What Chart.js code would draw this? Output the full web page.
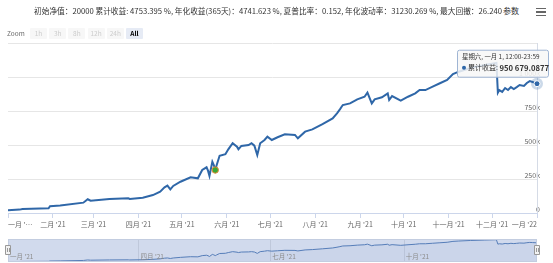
<!DOCTYPE html>
<html><head><meta charset="utf-8">
<script src="https://cdn.jsdelivr.net/npm/chart.js@4.4.1/dist/chart.umd.min.js"></script>
<style>
html,body{margin:0;padding:0;background:#fff;width:553px;height:263px;overflow:hidden;font-family:"Noto Sans CJK SC","Noto Sans",sans-serif;}
#main{position:absolute;left:0;top:0;}
#nav{position:absolute;left:0;top:238px;}
#title{position:absolute;left:34px;top:5px;font-size:7.7px;line-height:12px;color:#333;white-space:nowrap;}
#param{position:absolute;left:503px;top:5px;font-size:8px;line-height:12px;color:#333;background:#fff;padding-right:2px;}
#menu{position:absolute;left:536px;top:8px;width:10px;}
#menu div{height:1.3px;background:#666;margin-bottom:2px;}
#zoomrow{position:absolute;left:7px;top:28px;height:11px;font-size:6.5px;color:#666;}
#zoomrow span{position:absolute;top:0;height:11px;line-height:11px;text-align:center;}
.btn{background:#f7f7f7;color:#ccc;width:17px;border-radius:1px;}
.sel{background:#e6ebf5;color:#000;font-weight:bold;}
</style></head>
<body>
<canvas id="main" width="553" height="238"></canvas>
<canvas id="nav" width="553" height="25"></canvas>
<div id="title"></div>
<div id="param">参数</div>
<div id="menu"><div></div><div></div><div></div></div>
<div id="zoomrow"></div>
<script>
// ---- data ----
const statsText = "初始净值：20000 累计收益: 4753.395 %, 年化收益(365天)：4741.623 %, 夏普比率：0.152, 年化波动率：31230.269 %, 最大回撤：26.240 %";
const zoomButtons = ["1h","3h","8h","12h","24h","All"];
const seriesName = "累计收益";
const dates = ["2021-01-01","2021-01-09","2021-01-11","2021-01-29","2021-01-30","2021-02-06","2021-02-22","2021-02-25","2021-02-27",
"2021-03-12","2021-03-25","2021-03-26","2021-04-04","2021-04-11","2021-04-16","2021-04-19","2021-04-21","2021-04-23","2021-04-25",
"2021-04-30","2021-05-07","2021-05-12","2021-05-15","2021-05-18","2021-05-19","2021-05-20","2021-05-22","2021-05-23","2021-05-24",
"2021-05-25","2021-05-27","2021-05-31","2021-06-02","2021-06-05","2021-06-08","2021-06-09","2021-06-11","2021-06-16","2021-06-18",
"2021-06-20","2021-06-22","2021-06-24","2021-06-27","2021-06-29","2021-07-02","2021-07-06","2021-07-11","2021-07-18","2021-07-20",
"2021-07-25","2021-07-30","2021-08-06","2021-08-13","2021-08-16","2021-08-18","2021-08-20","2021-08-25","2021-08-30","2021-09-04",
"2021-09-06","2021-09-09","2021-09-11","2021-09-16","2021-09-20","2021-09-21","2021-09-23","2021-09-29","2021-10-04","2021-10-09",
"2021-10-12","2021-10-16","2021-10-21","2021-10-26","2021-10-31","2021-11-04","2021-11-08","2021-11-16","2021-11-26","2021-12-04",
"2021-12-05","2021-12-06","2021-12-08","2021-12-10","2021-12-12","2021-12-14","2021-12-16","2021-12-18","2021-12-20","2021-12-23",
"2021-12-25","2021-12-27","2021-12-29","2022-01-01"];
const values = [20000,25000,30000,35000,50000,55000,76000,101000,90000,
103000,108000,103000,112000,132000,157000,189000,201000,174000,199000,
230000,262000,255000,316000,336000,311000,272000,377000,353000,316000,
353000,421000,432000,468000,513000,487000,468000,493000,500000,513000,
495000,426000,513000,537000,561000,537000,557000,579000,574000,549000,
598000,615000,654000,696000,733000,762000,794000,806000,836000,855000,
885000,806000,836000,851000,880000,831000,860000,826000,855000,880000,
904000,904000,929000,954000,978000,1022000,1039000,1066000,1088000,1103000,
885000,904000,890000,919000,904000,926000,912000,926000,941000,934000,
956000,970000,963000,950679.0877];
const monthStarts = ["2021-01-01","2021-02-01","2021-03-01","2021-04-01","2021-05-01","2021-06-01","2021-07-01","2021-08-01","2021-09-01","2021-10-01","2021-11-01","2021-12-01","2022-01-01"];
const monthLabels = ["一月 '…","二月 '21","三月 '21","四月 '21","五月 '21","六月 '21","七月 '21","八月 '21","九月 '21","十月 '21","十一月 '21","十二月 '21","一月 '22"];
const navTickDates = ["2021-01-01","2021-04-01","2021-07-01","2021-10-01"];
const navTickLabels = ["一月 '21","四月 '21","七月 '21","十月 '21"];
const yTicks = [0,250000,500000,750000,1000000,1250000];
const markerDate = "2021-05-24", markerValue = 316000;
const hoverIndex = dates.length - 1;
const tooltipHeader = "星期六, 一月 1, 12:00-23:59";
const tooltipValue = "950 679.0877";

// ---- helpers ----
const base = Date.UTC(2021,0,1);
const dayOf = s => (Date.UTC(+s.slice(0,4), +s.slice(5,7)-1, +s.slice(8,10)) - base)/86400000;
const pts = dates.map((d,i)=>({x:dayOf(d), y:values[i]}));
const fmtK = v => { if(v===0) return '0'; const k=Math.round(v/1000); return String(k).replace(/\B(?=(\d{3})+(?!\d))/g,' ')+'k'; };
const FONT = '"Noto Sans CJK SC","Noto Sans",sans-serif';
const LINE = '#2f67a8';

document.getElementById('title').textContent = statsText;
const zr = document.getElementById('zoomrow');
const zl = document.createElement('span'); zl.textContent='Zoom'; zl.style.left='0px'; zr.appendChild(zl);
zoomButtons.forEach((b,i)=>{const s=document.createElement('span'); s.textContent=b; s.className='btn'+(b==='All'?' sel':''); s.style.left=(23+i*19.2)+'px'; zr.appendChild(s);});

const overlay = {
  id:'overlay',
  beforeDatasetsDraw(chart){
    const ctx=chart.ctx, a=chart.chartArea, xs=chart.scales.x;
    const px = xs.getPixelForValue(pts[hoverIndex].x);
    ctx.save(); ctx.strokeStyle='#d5dbe6'; ctx.lineWidth=1;
    ctx.beginPath(); ctx.moveTo(Math.round(px)+0.5,a.top); ctx.lineTo(Math.round(px)+0.5,a.bottom); ctx.stroke(); ctx.restore();
  },
  afterDraw(chart){
    const ctx=chart.ctx, xs=chart.scales.x, ys=chart.scales.y;
    const px = xs.getPixelForValue(pts[hoverIndex].x), py = ys.getPixelForValue(pts[hoverIndex].y);
    ctx.save();
    ctx.fillStyle='rgba(47,103,168,0.25)'; ctx.beginPath(); ctx.arc(px,py,6,0,Math.PI*2); ctx.fill();
    ctx.fillStyle=LINE; ctx.strokeStyle='#fff'; ctx.lineWidth=1; ctx.beginPath(); ctx.arc(px,py,3,0,Math.PI*2); ctx.fill(); ctx.stroke();
    // tooltip
    const L=px-80, T=py-34, W=91, H=27;
    ctx.fillStyle='rgba(247,247,247,0.85)'; ctx.strokeStyle='#9fb5d4'; ctx.lineWidth=1;
    ctx.beginPath(); ctx.roundRect(L+0.5,T+0.5,W,H,2); ctx.fill(); ctx.stroke();
    ctx.textBaseline='middle'; ctx.textAlign='left';
    ctx.fillStyle='#333'; ctx.font='6.4px '+FONT; ctx.fillText(tooltipHeader, L+5, T+7);
    ctx.fillStyle=LINE; ctx.beginPath(); ctx.arc(L+7,T+18,2,0,Math.PI*2); ctx.fill();
    ctx.fillStyle='#333'; ctx.font='7px '+FONT; ctx.fillText(seriesName+': ', L+11, T+18);
    const w=ctx.measureText(seriesName+': ').width;
    ctx.font='bold 7.7px '+FONT; ctx.fillText(tooltipValue, L+11+w, T+18);
    ctx.restore();
  }
};

new Chart(document.getElementById('main'), {
  type:'line',
  data:{datasets:[
    {data:[{x:dayOf(markerDate),y:markerValue}], showLine:false, pointRadius:3.2, pointBackgroundColor:'#3aa935', pointBorderColor:'#e8893a', pointBorderWidth:1},
    {data:pts, borderColor:LINE, borderWidth:2, pointRadius:0, tension:0, fill:false}
  ]},
  options:{
    responsive:false, animation:false, events:[],
    layout:{padding:{left:8,right:0,top:43,bottom:0}},
    plugins:{legend:{display:false}, tooltip:{enabled:false}},
    scales:{
      x:{type:'linear', min:0, max:365, position:'bottom',
        afterBuildTicks:s=>{s.ticks=monthStarts.map(d=>({value:dayOf(d)}));},
        afterFit:s=>{s.height=25;},
        grid:{drawOnChartArea:false, drawTicks:true, tickLength:5, color:'#ccd6eb'},
        border:{color:'#ccd6eb'},
        ticks:{autoSkip:false, maxRotation:0, align:'inner', padding:2, color:'#666', font:{size:7, family:FONT}, callback:(v,i)=>monthLabels[i]}
      },
      y:{type:'linear', position:'right', min:0, max:1250000,
        afterBuildTicks:s=>{s.ticks=yTicks.map(v=>({value:v}));},
        afterFit:s=>{s.width=16;},
        grid:{color:'#e6e6e6', drawTicks:false},
        border:{display:false},
        ticks:{mirror:true, padding:3, labelOffset:-4, color:'#666', font:{size:7, family:FONT}, callback:v=>v===1250000?'':fmtK(v)}
      }
    }
  },
  plugins:[overlay]
});

const navPlugin = {
  id:'navp',
  beforeDraw(chart){
    const ctx=chart.ctx, a=chart.chartArea, xs=chart.scales.x;
    ctx.save();
    ctx.fillStyle='#fff'; ctx.fillRect(a.left,a.top,a.right-a.left,a.bottom-a.top);
    ctx.strokeStyle='#e6e6e6'; ctx.lineWidth=1;
    navTickDates.forEach(d=>{const x=Math.round(xs.getPixelForValue(dayOf(d)))+0.5; ctx.beginPath(); ctx.moveTo(x,a.top); ctx.lineTo(x,a.bottom); ctx.stroke();});
    ctx.restore();
  },
  afterDatasetsDraw(chart){
    const ctx=chart.ctx, a=chart.chartArea, xs=chart.scales.x;
    ctx.save();
    ctx.fillStyle='rgba(102,133,194,0.3)'; ctx.fillRect(a.left,a.top,a.right-a.left,a.bottom-a.top);
    ctx.strokeStyle='#c3cde0'; ctx.lineWidth=1; ctx.strokeRect(a.left+0.5,a.top+0.5,a.right-a.left-1,a.bottom-a.top-1);
    ctx.fillStyle='#8c8c8c'; ctx.font='6.5px '+FONT; ctx.textBaseline='middle'; ctx.textAlign='left';
    navTickDates.forEach((d,i)=>{ctx.fillText(navTickLabels[i], xs.getPixelForValue(dayOf(d))+2, a.bottom-5);});
    [a.left, a.right].forEach(x=>{
      ctx.fillStyle='#f2f2f2'; ctx.strokeStyle='#999';
      ctx.beginPath(); ctx.rect(Math.round(x)-2.5, a.top+6.5, 5, 9); ctx.fill(); ctx.stroke();
      ctx.beginPath(); ctx.moveTo(Math.round(x)-0.5,a.top+9); ctx.lineTo(Math.round(x)-0.5,a.top+13);
      ctx.moveTo(Math.round(x)+1.5,a.top+9); ctx.lineTo(Math.round(x)+1.5,a.top+13); ctx.stroke();
    });
    ctx.restore();
  }
};

new Chart(document.getElementById('nav'), {
  type:'line',
  data:{datasets:[{data:pts, borderColor:'#4f7bb5', borderWidth:1, pointRadius:0, tension:0, fill:'origin', backgroundColor:'rgba(69,114,167,0.05)'}]},
  options:{
    responsive:false, animation:false, events:[],
    layout:{padding:{left:8,right:16,top:1,bottom:1}},
    plugins:{legend:{display:false}, tooltip:{enabled:false}},
    scales:{
      x:{type:'linear', min:0, max:365, display:false},
      y:{type:'linear', min:0, max:1140000, display:false}
    }
  },
  plugins:[navPlugin]
});
</script>
</body></html>
